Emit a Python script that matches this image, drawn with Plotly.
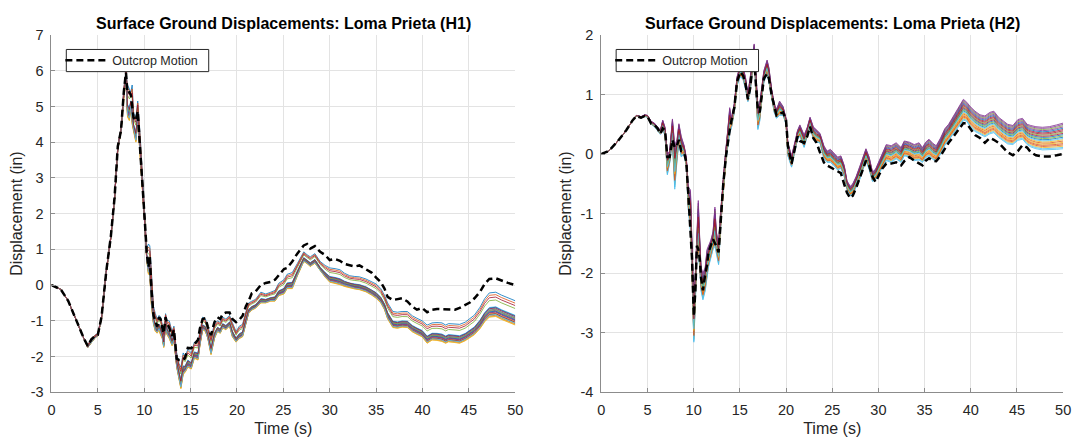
import plotly.graph_objects as go

# ---------------------------------------------------------------------------
# Loma Prieta, component H1: outcrop input motion and envelope of the
# surface responses computed for the soil profiles (in, vs time in s)
# ---------------------------------------------------------------------------
h1_time = [0.0, 1.0, 1.8, 2.9, 3.5, 3.9, 4.3, 4.7, 5.0, 5.4, 5.9, 6.4, 6.8, 7.15,
           7.5, 7.8, 8.03, 8.2, 8.4, 8.56, 8.7, 8.85, 9.1, 9.3, 9.56, 9.81, 10.06,
           10.27, 10.45, 10.6, 10.77, 11.0, 11.2, 11.4, 11.6, 11.76, 11.95, 12.1,
           12.3, 12.47, 12.7, 13.0, 13.2, 13.5, 13.75, 13.95, 14.2, 14.4, 14.7,
           15.07, 15.4, 15.8, 16.0, 16.3, 16.6, 16.86, 17.2, 17.57, 17.9, 18.2,
           18.46, 18.8, 19.2, 19.5, 19.9, 20.25, 20.6, 20.96, 21.25, 21.6, 22.0,
           22.57, 23.1, 23.64, 24.1, 24.5, 25.07, 25.4, 25.96, 26.5, 27.2, 27.55,
           27.9, 28.4, 28.97, 29.5, 30.0, 30.57, 31.1, 31.6, 32.16, 32.7, 33.2,
           33.9, 34.5, 35.0, 35.5, 35.9, 36.24, 36.8, 37.3, 37.8, 38.37, 38.9,
           39.4, 39.96, 40.5, 41.03, 41.56, 42.1, 42.5, 42.8, 43.5, 44.0, 44.6,
           45.1, 45.6, 46.2, 46.7, 47.2, 47.9, 48.5, 49.2, 50.0]
h1_outcrop = [0.0, -0.12, -0.44, -1.16, -1.5, -1.7, -1.52, -1.42, -1.39, -0.89, 0.37,
              1.36, 2.44, 3.88, 4.33, 5.41, 5.95, 5.37, 5.4, 5.32, 5.0, 4.69, 4.6,
              4.87, 3.79, 2.89, 1.81, 0.91, 0.5, 0.8, -0.1, -0.85, -1.0, -1.16, -0.9,
              -0.95, -1.2, -1.35, -0.9, -1.08, -1.2, -1.43, -1.25, -2.06, -2.1, -2.1,
              -2.1, -2.03, -1.76, -1.77, -1.67, -1.53, -1.22, -0.95, -0.93, -1.17,
              -1.4, -1.04, -0.9, -0.95, -0.81, -0.77, -0.77, -0.95, -1.04, -0.97,
              -0.86, -0.59, -0.45, -0.23, -0.18, 0.0, 0.06, 0.09, 0.15, 0.27, 0.45,
              0.48, 0.66, 0.88, 1.11, 1.15, 1.02, 1.09, 0.93, 0.84, 0.7, 0.73, 0.68,
              0.59, 0.55, 0.52, 0.55, 0.43, 0.35, 0.21, 0.08, -0.1, -0.33, -0.42,
              -0.4, -0.37, -0.46, -0.6, -0.69, -0.64, -0.76, -0.69, -0.67, -0.67,
              -0.68, -0.69, -0.69, -0.64, -0.55, -0.49, -0.37, -0.19, 0.03, 0.17,
              0.19, 0.12, 0.06, 0.0]
h1_surface_high = [0.0, -0.12, -0.44, -1.16, -1.5, -1.68, -1.5, -1.4, -1.35, -0.87,
                   0.4, 1.38, 2.46, 3.9, 4.4, 5.5, 6.0, 5.6, 5.5, 5.4, 5.6, 4.8, 4.7,
                   5.15, 4.2, 2.95, 1.9, 1.0, 1.15, 1.1, 0.4, -0.6, -0.8, -0.95,
                   -0.85, -0.9, -1.1, -1.3, -0.8, -1.0, -1.0, -1.3, -1.15, -1.9, -2.2,
                   -2.3, -1.9, -2.0, -1.8, -1.9, -1.6, -1.6, -1.3, -0.9, -0.95, -1.2,
                   -1.45, -1.1, -1.0, -1.05, -0.9, -0.95, -0.85, -1.05, -1.3, -1.15,
                   -1.1, -0.75, -0.5, -0.45, -0.4, -0.2, -0.25, -0.2, -0.15, 0.05,
                   0.15, 0.3, 0.35, 0.6, 0.93, 0.85, 0.79, 0.88, 0.66, 0.55, 0.48,
                   0.46, 0.43, 0.33, 0.26, 0.24, 0.23, 0.17, 0.1, 0.03, -0.1, -0.28,
                   -0.5, -0.74, -0.76, -0.74, -0.74, -0.86, -0.93, -1.0, -1.12,
                   -1.06, -1.05, -1.06, -1.12, -1.08, -1.09, -1.1, -1.04, -0.95,
                   -0.84, -0.62, -0.38, -0.22, -0.2, -0.28, -0.36, -0.44]
h1_surface_low = [0.0, -0.12, -0.44, -1.16, -1.5, -1.75, -1.6, -1.48, -1.42, -0.92,
                  0.33, 1.32, 2.4, 3.8, 4.3, 5.3, 5.8, 4.7, 4.6, 5.0, 4.5, 4.3, 4.0,
                  4.6, 3.7, 2.8, 1.7, 0.7, 0.3, 0.3, -0.55, -1.1, -1.3, -1.35, -1.25,
                  -1.4, -1.5, -1.75, -1.1, -1.4, -1.5, -1.7, -1.55, -2.3, -2.6, -2.9,
                  -2.5, -2.45, -2.3, -2.35, -2.05, -2.1, -1.7, -1.25, -1.3, -1.5,
                  -1.95, -1.5, -1.3, -1.35, -1.2, -1.25, -1.15, -1.45, -1.6, -1.5,
                  -1.45, -1.05, -0.8, -0.7, -0.65, -0.5, -0.5, -0.45, -0.45, -0.3,
                  -0.25, -0.1, -0.1, 0.25, 0.66, 0.6, 0.52, 0.61, 0.39, 0.22, 0.08,
                  0.05, 0.01, -0.04, -0.08, -0.11, -0.13, -0.19, -0.28, -0.37, -0.5,
                  -0.69, -0.95, -1.19, -1.21, -1.18, -1.19, -1.31, -1.38, -1.45,
                  -1.63, -1.54, -1.55, -1.58, -1.63, -1.59, -1.61, -1.63, -1.56,
                  -1.48, -1.39, -1.22, -1.03, -0.9, -0.88, -0.96, -1.04, -1.12]

# ---------------------------------------------------------------------------
# Loma Prieta, component H2
# ---------------------------------------------------------------------------
h2_time = [0.0, 0.8, 1.8, 2.7, 3.4, 3.8, 4.3, 4.7, 5.0, 5.4, 5.75, 6.1, 6.4, 6.65,
           6.9, 7.15, 7.4, 7.7, 7.95, 8.2, 8.4, 8.65, 8.95, 9.2, 9.4, 9.65, 9.82,
           9.95, 10.02, 10.18, 10.35, 10.5, 10.65, 10.8, 11.0, 11.25, 11.45, 11.6,
           11.85, 12.1, 12.3, 12.45, 12.7, 12.9, 13.2, 13.5, 13.72, 13.9, 14.1,
           14.4, 14.7, 15.05, 15.35, 15.6, 15.87, 16.12, 16.3, 16.55, 16.73, 16.95,
           17.15, 17.4, 17.6, 17.95, 18.15, 18.43, 18.72, 18.97, 19.3, 19.68, 20.0,
           20.2, 20.6, 20.96, 21.25, 21.5, 21.96, 22.3, 22.6, 22.95, 23.3, 23.67,
           24.1, 24.45, 24.8, 25.23, 25.59, 25.94, 26.3, 26.6, 26.95, 27.22, 27.58,
           28.0, 28.36, 28.65, 29.0, 29.36, 29.7, 30.07, 30.43, 30.85, 31.39,
           31.92, 32.46, 32.8, 33.35, 33.88, 34.4, 34.77, 35.12, 35.48, 35.9,
           36.26, 36.73, 37.2, 37.6, 38.15, 38.7, 39.2, 39.57, 39.93, 40.46, 41.0,
           41.53, 42.06, 42.5, 43.0, 43.5, 44.0, 44.56, 45.1, 45.6, 46.1, 46.5,
           47.05, 47.76, 48.5, 49.3, 50.0]
h2_outcrop = [0.0, 0.05, 0.22, 0.4, 0.57, 0.64, 0.61, 0.64, 0.63, 0.51, 0.49, 0.43,
              0.34, 0.43, 0.4, -0.05, -0.05, 0.24, 0.11, 0.15, 0.24, 0.05, 0.03,
              -0.13, -0.62, -1.21, -1.75, -2.4, -2.72, -2.29, -1.54, -1.6, -1.75,
              -2.08, -2.29, -2.02, -1.86, -1.65, -1.54, -1.43, -1.5, -1.54, -1.65,
              -1.11, -0.51, -0.03, 0.24, 0.4, 0.57, 0.78, 1.22, 1.38, 1.32, 1.19,
              0.92, 1.11, 1.38, 1.59, 1.19, 0.73, 0.7, 1.05, 1.27, 1.35, 1.27, 1.0,
              0.78, 0.65, 0.68, 0.7, 0.57, 0.14, -0.16, 0.08, 0.3, 0.22, 0.19, 0.3,
              0.46, 0.27, 0.19, 0.03, -0.14, -0.19, -0.22, -0.27, -0.3, -0.32,
              -0.51, -0.65, -0.74, -0.7, -0.57, -0.41, -0.24, -0.11, -0.19, -0.38,
              -0.47, -0.35, -0.24, -0.16, -0.16, -0.14, -0.19, -0.12, -0.05, -0.11,
              -0.16, -0.19, -0.11, -0.07, -0.11, -0.12, -0.03, 0.09, 0.19, 0.3,
              0.41, 0.52, 0.51, 0.43, 0.32, 0.27, 0.19, 0.27, 0.24, 0.19, 0.11,
              0.03, -0.02, 0.05, 0.15, 0.11, 0.03, -0.02, -0.04, -0.04, -0.02, 0.0]
h2_surface_high = [0.0, 0.05, 0.22, 0.4, 0.57, 0.65, 0.63, 0.66, 0.65, 0.55, 0.52,
                   0.45, 0.4, 0.57, 0.45, 0.0, 0.05, 0.59, 0.15, 0.25, 0.51, 0.3,
                   0.15, -0.05, -0.55, -0.6, -1.6, -2.3, -2.6, -2.0, -1.3, -0.78,
                   -1.4, -1.9, -2.0, -1.9, -1.6, -1.55, -1.45, -1.3, -0.89, -1.3,
                   -1.5, -1.0, -0.4, 0.1, 0.45, 0.78, 0.6, 0.85, 1.3, 1.5, 1.45, 1.3,
                   1.0, 1.25, 1.5, 1.85, 1.4, 0.8, 0.85, 1.2, 1.4, 1.58, 1.45, 1.1,
                   0.85, 0.75, 0.89, 0.8, 0.6, 0.19, -0.03, 0.2, 0.4, 0.49, 0.32,
                   0.45, 0.62, 0.46, 0.4, 0.35, 0.14, 0.05, 0.08, 0.0, -0.05, -0.03,
                   -0.19, -0.45, -0.54, -0.5, -0.38, -0.2, -0.05, 0.09, -0.05, -0.3,
                   -0.25, -0.12, 0.0, 0.16, 0.14, 0.19, 0.11, 0.22, 0.2, 0.16, 0.19,
                   0.11, 0.2, 0.25, 0.18, 0.14, 0.27, 0.43, 0.5, 0.65, 0.78, 0.92,
                   0.87, 0.8, 0.72, 0.66, 0.64, 0.7, 0.72, 0.62, 0.56, 0.5, 0.48,
                   0.58, 0.6, 0.5, 0.48, 0.46, 0.45, 0.46, 0.49, 0.52]
h2_surface_low = [0.0, 0.05, 0.22, 0.4, 0.57, 0.64, 0.6, 0.63, 0.62, 0.5, 0.46,
                  0.38, 0.33, 0.42, 0.3, -0.35, -0.15, 0.2, -0.59, -0.1, 0.2, -0.05,
                  0.0, -0.2, -0.9, -1.3, -1.9, -2.8, -3.16, -2.5, -1.7, -1.7, -1.9,
                  -2.3, -2.45, -2.3, -2.05, -1.9, -1.75, -1.6, -1.55, -1.65, -1.86,
                  -1.3, -0.6, -0.1, 0.2, 0.35, 0.45, 0.7, 1.15, 1.3, 1.25, 1.1, 0.88,
                  1.05, 1.3, 1.55, 1.1, 0.41, 0.55, 1.0, 1.2, 1.35, 1.2, 0.95, 0.7,
                  0.6, 0.65, 0.65, 0.5, -0.03, -0.22, 0.05, 0.25, 0.3, 0.11, 0.3,
                  0.46, 0.24, 0.2, 0.19, -0.08, -0.14, -0.14, -0.2, -0.27, -0.24,
                  -0.38, -0.6, -0.7, -0.68, -0.57, -0.42, -0.25, -0.11, -0.26, -0.46,
                  -0.43, -0.33, -0.24, -0.11, -0.14, -0.08, -0.14, -0.03, -0.05,
                  -0.11, -0.1, -0.14, -0.06, -0.03, -0.09, -0.12, 0.0, 0.15, 0.23,
                  0.35, 0.46, 0.57, 0.55, 0.46, 0.38, 0.33, 0.29, 0.34, 0.36, 0.28,
                  0.22, 0.17, 0.16, 0.23, 0.25, 0.16, 0.12, 0.09, 0.07, 0.07, 0.08,
                  0.09]

# Relative position of each soil profile's response inside the envelope
# (0 = lowest trace, 1 = highest trace)
h1_profile_position = [1.0, 0.9, 0.15, 0.3, 0.68, 0.4, 0.8, 0.38, 0.2, 0.0, 0.25,
                       0.1, 0.33, 0.12, 0.22, 0.05, 0.02, 0.18, 0.28, 0.08, 0.35]
h2_profile_position = [0.55, 0.15, 0.1, 1.0, 0.9, 0.0, 0.75, 0.8, 0.3, 0.25, 0.85,
                       0.65, 0.05, 0.6, 0.45, 0.2, 0.35, 0.95, 0.5, 0.4, 0.7]

# Axis ticks
time_ticks = [0, 5, 10, 15, 20, 25, 30, 35, 40, 45, 50]
h1_disp_ticks = [-3, -2, -1, 0, 1, 2, 3, 4, 5, 6, 7]
h2_disp_ticks = [-4, -3, -2, -1, 0, 1, 2]

line_colors = ["#0072BD", "#D95319", "#EDB120", "#7E2F8E",
               "#77AC30", "#4DBEEE", "#A2142F"]

W, H = 1083, 447
FONT = "Liberation Sans, Arial, sans-serif"


def px(x):
    return x / W


def py(y):
    return 1 - y / H


fig = go.Figure()

x_left = [px(48), px(517)]
x_right = [px(604), px(1071)]
y_dom = [py(398.5), py(28)]

panels = [
    dict(t=h1_time, out=h1_outcrop, hi=h1_surface_high, lo=h1_surface_low,
         pos=h1_profile_position, xa="x", ya="y", legend="legend", dom=x_left,
         title="Surface Ground Displacements: Loma Prieta (H1)"),
    dict(t=h2_time, out=h2_outcrop, hi=h2_surface_high, lo=h2_surface_low,
         pos=h2_profile_position, xa="x2", ya="y2", legend="legend2", dom=x_right,
         title="Surface Ground Displacements: Loma Prieta (H2)"),
]

for p in panels:
    for k, w in enumerate(p["pos"]):
        trace_y = [lo + w * (hi - lo) for lo, hi in zip(p["lo"], p["hi"])]
        fig.add_trace(go.Scatter(
            x=p["t"], y=trace_y, mode="lines",
            line=dict(color=line_colors[k % len(line_colors)], width=0.8),
            xaxis=p["xa"], yaxis=p["ya"], showlegend=False, hoverinfo="skip"))
    fig.add_trace(go.Scatter(
        x=p["t"], y=p["out"], mode="lines", name="Outcrop Motion",
        line=dict(color="black", width=2.5, dash="7px,4px"),
        xaxis=p["xa"], yaxis=p["ya"], legend=p["legend"]))

axis_common = dict(
    showgrid=True, gridcolor="#e3e3e3", gridwidth=1,
    showline=True, linecolor="#8c8c8c", linewidth=1,
    ticks="inside", ticklen=4, tickcolor="#8c8c8c",
    tickfont=dict(family=FONT, size=14.5, color="#262626"),
    ticklabelstandoff=4,
    zeroline=False, mirror=False,
)
label_font = dict(family=FONT, size=16, color="#262626")

legend_common = dict(
    xanchor="left", yanchor="middle", bgcolor="rgba(0,0,0,0)", borderwidth=0,
    itemwidth=42, font=dict(family=FONT, size=12.5, color="#262626"))

fig.update_layout(
    width=W, height=H,
    margin=dict(l=0, r=0, t=0, b=0),
    paper_bgcolor="white", plot_bgcolor="white",
    font=dict(family=FONT, color="#262626"),
    xaxis=dict(domain=x_left, range=[0, 50], tickvals=time_ticks,
               ticktext=[str(v) for v in time_ticks], anchor="y",
               title=dict(text="Time (s)", font=label_font, standoff=6),
               **axis_common),
    yaxis=dict(domain=y_dom, range=[-3, 7], tickvals=h1_disp_ticks,
               ticktext=[str(v) for v in h1_disp_ticks], anchor="x",
               title=dict(text="Displacement (in)", font=label_font, standoff=4),
               **axis_common),
    xaxis2=dict(domain=x_right, range=[0, 50], tickvals=time_ticks,
                ticktext=[str(v) for v in time_ticks], anchor="y2",
                title=dict(text="Time (s)", font=label_font, standoff=6),
                **axis_common),
    yaxis2=dict(domain=y_dom, range=[-4, 2], tickvals=h2_disp_ticks,
                ticktext=[str(v) for v in h2_disp_ticks], anchor="x2",
                title=dict(text="Displacement (in)", font=label_font, standoff=4),
                **axis_common),
    legend=dict(x=px(57), y=py(54.5), **legend_common),
    legend2=dict(x=px(613), y=py(54.5), **legend_common),
)

for p in panels:
    dom = p["dom"]
    # legend frame (white box with dark border) behind the legend entry
    box_left = dom[0] * W + 15
    fig.add_shape(type="rect", xref="paper", yref="paper", layer="above",
                  x0=px(box_left), x1=px(box_left + 144), y0=py(66), y1=py(43),
                  fillcolor="white", line=dict(color="#262626", width=1))
    fig.add_annotation(
        text="<b>" + p["title"] + "</b>", xref="paper", yref="paper",
        x=(dom[0] + dom[1]) / 2, y=py(16), xanchor="center", yanchor="middle",
        showarrow=False, font=dict(family=FONT, size=16, color="black"))

fig.write_html("out.html")
